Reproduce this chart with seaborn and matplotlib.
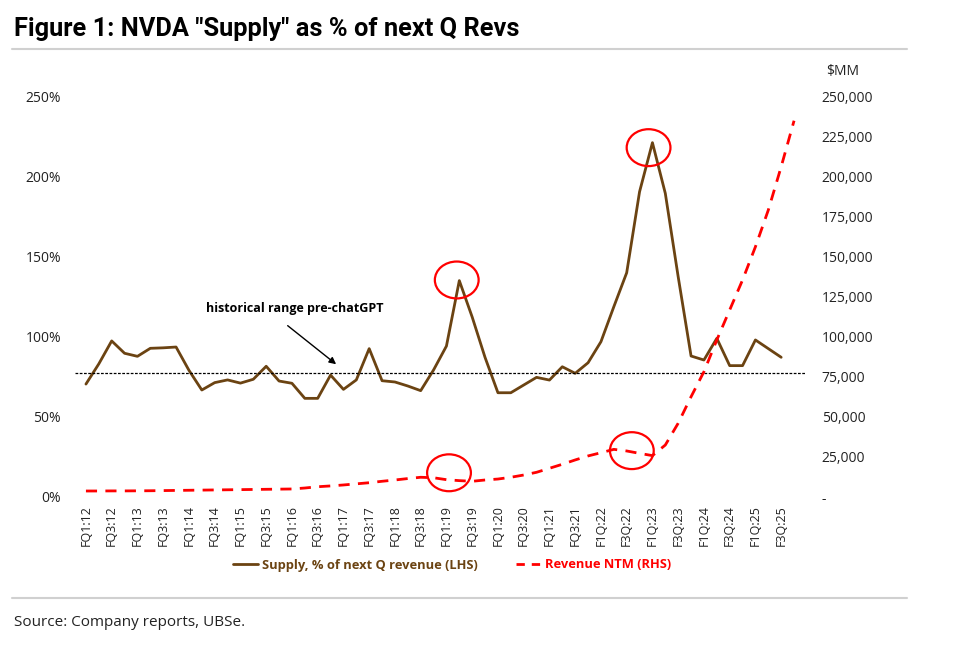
import numpy as np
import pandas as pd
import matplotlib
matplotlib.use("Agg")
import matplotlib.pyplot as plt
import seaborn as sns
from matplotlib.patches import Ellipse
from matplotlib.lines import Line2D
from matplotlib.ticker import FuncFormatter

# Data (quarters FQ1:12 .. F4Q:25)
supply_pct = [70.4, 83, 97.3, 89.6, 87.7, 92.7, 93, 93.5, 79, 66.7,
              71.3, 73, 71, 73.4, 81.5, 72.3, 70.9, 61.5, 61.5, 76,
              67.1, 73, 92.5, 72.5, 71.7, 69.2, 66.3, 79.2, 94.1, 134.9,
              112.2, 87, 65, 65, 69.8, 74.6, 72.9, 81.2, 77.1, 83.7,
              96.8, 118.6, 139.8, 190.3, 220.9, 189.3, 137.3, 87.9, 85.4, 98.9,
              81.9, 81.9, 97.9, 92.5, 87.1]

revenue_ntm = [3740, 3750, 3800, 3800, 3850, 3900, 4000, 4100, 4200, 4300,
               4400, 4500, 4600, 4700, 4800, 4900, 5000, 5600, 6400, 6900,
               7500, 8200, 8900, 9800, 10600, 11500, 12300, 12000, 10800, 10200,
               9800, 10600, 11200, 12300, 13700, 15400, 17900, 20400, 23100, 25600,
               27600, 29700, 28700, 27200, 25800, 32400, 46000, 62500, 78100, 97900,
               116600, 135300, 156000, 178900, 205900, 234600]

tick_labels = ["FQ1:12", "FQ3:12", "FQ1:13", "FQ3:13", "FQ1:14", "FQ3:14",
               "FQ1:15", "FQ3:15", "FQ1:16", "FQ3:16", "FQ1:17", "FQ3:17",
               "FQ1:18", "FQ3:18", "FQ1:19", "FQ3:19", "FQ1:20", "FQ3:20",
               "FQ1:21", "FQ3:21", "F1Q:22", "F3Q:22", "F1Q:23", "F3Q:23",
               "F1Q:24", "F3Q:24", "F1Q:25", "F3Q:25"]

historical_level = 77.1

# circles: (x index, y in % of left axis)
circle_x = [28.8, 43.7, 28.2, 42.4]
circle_y = [135.3, 217.8, 15.1, 28.9]

BROWN = "#6b4312"
RED = "#ff0000"

sns.set_theme(style="white")
plt.rcParams["font.family"] = ["Open Sans", "DejaVu Sans"]

df_supply = pd.DataFrame({"q": np.arange(len(supply_pct)), "supply": supply_pct})
df_rev = pd.DataFrame({"q": np.arange(len(revenue_ntm)), "rev": revenue_ntm})

fig = plt.figure(figsize=(9.72, 6.45), dpi=100)
ax = fig.add_axes([75 / 972, 1 - 497 / 645, 730 / 972, 401 / 645])
ax2 = ax.twinx()

sns.lineplot(data=df_supply, x="q", y="supply", ax=ax, color=BROWN, lw=2,
             label="Supply, % of next Q revenue (LHS)", legend=False)
sns.lineplot(data=df_rev, x="q", y="rev", ax=ax2, color=RED, lw=2,
             label="Revenue NTM (RHS)", legend=False)
ax2.lines[0].set_dashes([4, 3])

ax.axhline(historical_level, color="black", lw=0.9, ls=(0, (2.2, 1.2)))

for cx, cy in zip(circle_x, circle_y):
    ax.add_patch(Ellipse((cx, cy), 3.4, 23, fill=False, edgecolor=RED, lw=1.6, zorder=5))

ax.annotate("", xy=(19.6, 81.7), xytext=(15.5, 107.9),
            arrowprops=dict(arrowstyle="-|>", color="black", lw=1, mutation_scale=10))
ax.text(16.2, 117.8, "historical range pre-chatGPT", ha="center", va="center",
        fontsize=9, fontweight="bold", color="black")

ax.set_xlim(-0.85, 55.85)
ax.set_ylim(0, 250)
ax2.set_ylim(0, 250000)

ax.set_xticks(np.arange(0, 56, 2))
ax.set_xticklabels(tick_labels, rotation=90, fontsize=9, color="#222222")
ax.set_yticks(np.arange(0, 251, 50))
ax.yaxis.set_major_formatter(FuncFormatter(lambda v, p: f"{int(v)}%"))
ax2.set_yticks(np.arange(0, 250001, 25000))
ax2.yaxis.set_major_formatter(FuncFormatter(lambda v, p: "-" if v == 0 else f"{int(v):,}"))

ax.tick_params(axis="x", length=0, pad=6)
ax.tick_params(axis="y", length=0, pad=10, labelsize=10, labelcolor="#222222")
ax2.tick_params(axis="y", length=0, pad=12, labelsize=10, labelcolor="#222222")
ax.set_xlabel("")
ax.set_ylabel("")
ax2.set_ylabel("")
for a in (ax, ax2):
    for s in a.spines.values():
        s.set_visible(False)

fig.text(826 / 972, 1 - 72 / 645, "$MM", fontsize=10, color="#222222", va="center")

# legend under the plot
handles = [Line2D([], [], color=BROWN, lw=2),
           Line2D([], [], color=RED, lw=2, dashes=[3, 2.5])]
leg = fig.legend(handles, ["Supply, % of next Q revenue (LHS)", "Revenue NTM (RHS)"],
                 loc="center", bbox_to_anchor=(452 / 972, 1 - 565 / 645), ncol=2,
                 frameon=False, handlelength=2.0, handletextpad=0.25, columnspacing=3,
                 prop={"size": 9.3, "weight": "bold"})
for t, c in zip(leg.get_texts(), [BROWN, RED]):
    t.set_color(c)

# title, rules and source
fig.text(14 / 972, 1 - 29 / 645, 'Figure 1: NVDA "Supply" as % of next Q Revs',
         fontsize=18.3, fontweight="bold", va="center", color="black",
         family=["Roboto", "DejaVu Sans"])
fig.add_artist(Line2D([12 / 972, 907 / 972], [1 - 49 / 645] * 2, color="#d0d0d0", lw=1.5))
fig.add_artist(Line2D([12 / 972, 907 / 972], [1 - 598 / 645] * 2, color="#d0d0d0", lw=1.5))
fig.text(14 / 972, 1 - 622 / 645, "Source: Company reports, UBSe.", fontsize=11,
         va="center", color="#222222")

fig.savefig("out.png", dpi=100)
